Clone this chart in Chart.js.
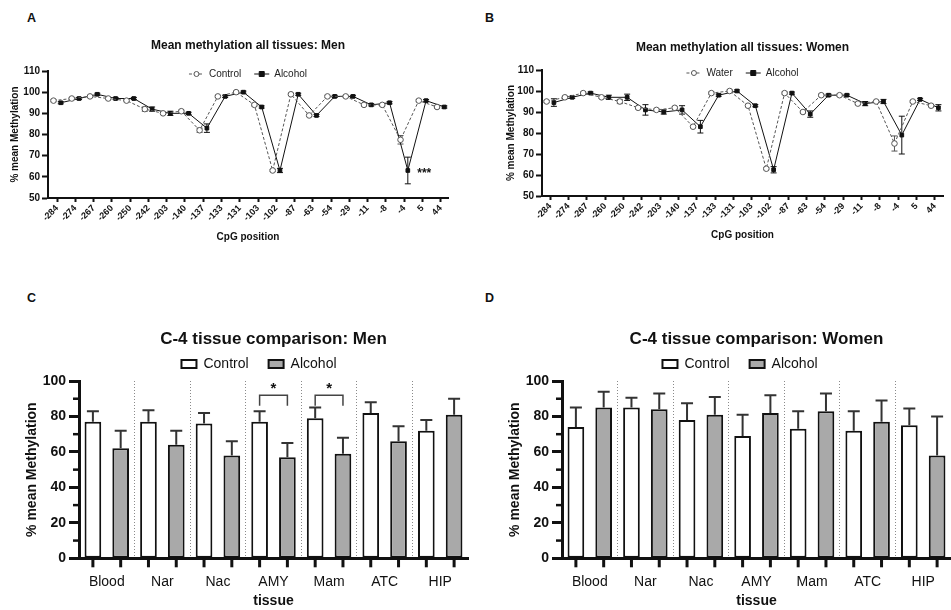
<!DOCTYPE html>
<html>
<head>
<meta charset="utf-8">
<title>Methylation</title>
<script src="https://cdn.jsdelivr.net/npm/chart.js@4/dist/chart.umd.min.js"></script>
<style>
  html, body { margin: 0; padding: 0; background: #fff; overflow: hidden; }
  body { width: 951px; height: 610px; position: relative; font-family: "Liberation Sans", Arial, sans-serif; }
  canvas { position: absolute; }
  .tag { position: absolute; font-weight: bold; font-size: 12.5px; line-height: 1; color: #111; }
</style>
</head>
<body>
<div class="tag" style="left:27px;top:11.5px">A</div>
<div class="tag" style="left:485px;top:11.5px">B</div>
<div class="tag" style="left:27px;top:291.5px">C</div>
<div class="tag" style="left:485px;top:291.5px">D</div>

<canvas id="chart-a" width="470" height="215" style="left:0;top:30px"></canvas>
<canvas id="chart-b" width="454" height="213" style="left:497px;top:30px"></canvas>
<canvas id="chart-c" width="518" height="300" style="left:0;top:310px"></canvas>
<canvas id="chart-d" width="514" height="300" style="left:483px;top:310px"></canvas>

<script>
// CpG positions along the promoter (panels A and B)
const cpgPositions = ["-284", "-274", "-267", "-260", "-250", "-242", "-203", "-140", "-137", "-133", "-131",
  "-103", "-102", "-87", "-63", "-54", "-29", "-11", "-8", "-4", "5", "44"];

const menControl = [96, 97, 98, 97, 96, 92, 90, 91, 82, 98, 100, 94, 63, 99, 89, 98, 98, 94, 94, 77.5, 96, 93];
const menControlErr = [0.5, 0.5, 0.5, 0.5, 0.5, 1, 0.5, 0.5, 1, 0.5, 0.5, 0.5, 0.5, 0.5, 0.5, 0.5, 0.5, 0.5, 0.5, 2, 0.5, 0.5];
const menAlcohol = [95, 97, 99, 97, 97, 92, 90, 90, 83, 98, 100, 93, 63, 99, 89, 98, 98, 94, 95, 63, 96, 93];
const menAlcoholErr = [0.5, 0.5, 0.5, 0.5, 0.5, 1, 1, 0.5, 2, 0.5, 0.5, 0.5, 1, 0.5, 0.5, 0.5, 0.5, 0.5, 0.5, 6.3, 0.5, 0.5];

const womenWater = [95, 97, 99, 97, 95, 92, 91, 92, 83, 99, 100, 93, 63, 99, 90, 98, 98, 94, 95, 75, 95, 93];
const womenWaterErr = [0.5, 0.5, 0.5, 0.5, 1, 0.5, 0.5, 0.5, 0.5, 0.5, 0.5, 0.5, 0.5, 0.5, 0.5, 0.5, 0.5, 0.5, 0.5, 3.6, 0.5, 0.5];
const womenAlcohol = [94.5, 97, 99, 97, 97, 91, 90, 91, 83, 98, 100, 93, 62.5, 99, 89, 98, 98, 94, 95, 79, 96, 92];
const womenAlcoholErr = [1.8, 0.5, 0.5, 1, 1.5, 2.5, 1, 2, 3, 0.5, 0.5, 0.5, 1.5, 0.5, 1.5, 0.5, 0.5, 1, 1, 9, 0.5, 1.5];

// C-4 tissue comparison (panels C and D)
const tissues = ["Blood", "Nar", "Nac", "AMY", "Mam", "ATC", "HIP"];
const menBarControl = [77, 77, 76, 77, 79, 82, 72];
const menBarControlErr = [6, 6.5, 6, 6, 6, 6, 6];
const menBarAlcohol = [62, 64, 58, 57, 59, 66, 81];
const menBarAlcoholErr = [10, 8, 8, 8, 9, 8.5, 9];
const womenBarControl = [74, 85, 78, 69, 73, 72, 75];
const womenBarControlErr = [11, 5.5, 9.5, 12, 10, 11, 9.5];
const womenBarAlcohol = [85, 84, 81, 82, 83, 77, 58];
const womenBarAlcoholErr = [9, 9, 10, 10, 10, 12, 22];
const menSignificant = ["AMY", "Mam"];

const FONT = '"Liberation Sans", Arial, Helvetica, sans-serif';
Chart.defaults.font.family = FONT;
Chart.defaults.color = "#111";

function linePoints(values, shift) {
  return values.map((v, i) => ({ x: i + shift, y: v }));
}

// whiskers above and below each point
const lineErrorBars = {
  id: "lineErrorBars",
  beforeDatasetsDraw(chart) {
    const { ctx } = chart;
    const y = chart.scales.y;
    chart.data.datasets.forEach((ds, i) => {
      const meta = chart.getDatasetMeta(i);
      ctx.save();
      ctx.strokeStyle = ds.borderColor;
      ctx.lineWidth = 1;
      meta.data.forEach((pt, j) => {
        const e = ds.errors[j];
        const top = y.getPixelForValue(ds.data[j].y + e);
        const bot = y.getPixelForValue(ds.data[j].y - e);
        ctx.beginPath();
        ctx.moveTo(pt.x, top); ctx.lineTo(pt.x, bot);
        ctx.moveTo(pt.x - 3, top); ctx.lineTo(pt.x + 3, top);
        ctx.moveTo(pt.x - 3, bot); ctx.lineTo(pt.x + 3, bot);
        ctx.stroke();
      });
      ctx.restore();
    });
  }
};

// legend sitting inside the top of the plot: -o- Control  -•- Alcohol
const lineLegend = {
  id: "lineLegend",
  afterDraw(chart) {
    const { ctx, chartArea } = chart;
    const sets = chart.data.datasets;
    const seg = 15, gap = 5, itemGap = 13;
    ctx.save();
    ctx.font = "10px " + FONT;
    const widths = sets.map(ds => seg + gap + ctx.measureText(ds.label).width);
    const total = widths.reduce((a, b) => a + b, 0) + itemGap * (sets.length - 1);
    let x = (chartArea.left + chartArea.right) / 2 - total / 2;
    const y = chartArea.top + 3;
    sets.forEach((ds, i) => {
      ctx.strokeStyle = ds.borderColor;
      ctx.lineWidth = 1;
      ctx.setLineDash(ds.borderDash || []);
      ctx.beginPath();
      ctx.moveTo(x, y); ctx.lineTo(x + seg, y);
      ctx.stroke();
      ctx.setLineDash([]);
      ctx.fillStyle = ds.pointBackgroundColor;
      ctx.strokeStyle = ds.pointBorderColor;
      const cx = x + seg / 2, r = 2.5;
      ctx.beginPath();
      if (ds.pointStyle === "rect") ctx.rect(cx - r, y - r, 2 * r, 2 * r);
      else ctx.arc(cx, y, r, 0, Math.PI * 2);
      ctx.fill();
      ctx.stroke();
      ctx.fillStyle = "#222";
      ctx.textAlign = "left";
      ctx.textBaseline = "middle";
      ctx.fillText(ds.label, x + seg + gap, y);
      x += widths[i] + itemGap;
    });
    ctx.restore();
  }
};

const pointStars = {
  id: "pointStars",
  afterDatasetsDraw(chart, args, opts) {
    const i = cpgPositions.indexOf(opts.label);
    const ds = chart.data.datasets[opts.dataset];
    const x = chart.scales.x.getPixelForValue(i + 1.1);
    const y = chart.scales.y.getPixelForValue(ds.data[i].y);
    const ctx = chart.ctx;
    ctx.save();
    ctx.font = "bold 12px " + FONT;
    ctx.fillStyle = "#111";
    ctx.textAlign = "center";
    ctx.textBaseline = "middle";
    ctx.fillText("***", x, y + 3);
    ctx.restore();
  }
};

function lineChart(id, title, names, ctrl, ctrlErr, alc, alcErr, cfg) {
  return new Chart(document.getElementById(id), {
    type: "line",
    data: {
      datasets: [
        {
          label: names[0], data: linePoints(ctrl, -0.2), errors: ctrlErr,
          borderColor: "#555", borderWidth: 1, borderDash: [3, 2],
          pointStyle: "circle", pointRadius: 2.8, pointBorderWidth: 1,
          pointBackgroundColor: "#fff", pointBorderColor: "#555"
        },
        {
          label: names[1], data: linePoints(alc, 0.2), errors: alcErr,
          borderColor: "#111", borderWidth: 1,
          pointStyle: "rect", pointRadius: 2.6, pointBorderWidth: 1,
          pointBackgroundColor: "#111", pointBorderColor: "#111"
        }
      ]
    },
    options: {
      responsive: false,
      animation: false,
      layout: { padding: { right: cfg.padRight } },
      plugins: {
        legend: { display: false },
        tooltip: { enabled: false },
        title: {
          display: true, text: title, fullSize: false, color: "#111",
          font: { size: 12, weight: "bold" },
          padding: { top: cfg.titleTop, bottom: cfg.titleBottom }
        },
        pointStars: cfg.stars || false
      },
      scales: {
        x: {
          type: "linear", min: cfg.xMin, max: cfg.xMax,
          afterBuildTicks: s => { s.ticks = cpgPositions.map((_, i) => ({ value: i })); },
          afterFit: s => { s.height = cfg.xHeight; },
          ticks: {
            autoSkip: false, minRotation: 45, maxRotation: 45, padding: 1,
            font: { size: 9, weight: "bold" },
            callback: v => cpgPositions[v]
          },
          grid: { drawOnChartArea: false, tickLength: 4, tickWidth: 2, color: "#111" },
          border: { width: 2, color: "#111" },
          title: { display: true, text: "CpG position", font: { size: 10, weight: "bold" }, padding: { top: 0, bottom: 2 } }
        },
        y: {
          min: 50, max: 110,
          afterFit: s => { s.width = cfg.yWidth; },
          ticks: { stepSize: 10, padding: 2, font: { size: 10, weight: "bold" } },
          grid: { drawOnChartArea: false, tickLength: 6, tickWidth: 2, color: "#111" },
          border: { width: 2, color: "#111" },
          title: { display: true, text: "% mean Methylation", font: { size: 10, weight: "bold" }, padding: { top: cfg.yTitlePad, bottom: 0 } }
        }
      }
    },
    plugins: [lineErrorBars, lineLegend, pointStars]
  });
}

// upper whiskers on bars
const barErrors = {
  id: "barErrors",
  afterDatasetsDraw(chart) {
    const { ctx } = chart;
    const y = chart.scales.y;
    chart.data.datasets.forEach((ds, i) => {
      const meta = chart.getDatasetMeta(i);
      ctx.save();
      ctx.strokeStyle = "#333";
      ctx.lineWidth = 2;
      meta.data.forEach((bar, j) => {
        const top = y.getPixelForValue(ds.data[j] + ds.errors[j]);
        ctx.beginPath();
        ctx.moveTo(bar.x, bar.y); ctx.lineTo(bar.x, top);
        ctx.moveTo(bar.x - 6, top); ctx.lineTo(bar.x + 6, top);
        ctx.stroke();
      });
      ctx.restore();
    });
  }
};

// tick under every bar and minor ticks on the y axis
const barAxisTicks = {
  id: "barAxisTicks",
  afterDraw(chart) {
    const { ctx, chartArea } = chart;
    const y = chart.scales.y;
    ctx.save();
    ctx.strokeStyle = "#111";
    ctx.lineWidth = 3;
    chart.data.datasets.forEach((ds, i) => {
      chart.getDatasetMeta(i).data.forEach(bar => {
        ctx.beginPath();
        ctx.moveTo(bar.x, chartArea.bottom);
        ctx.lineTo(bar.x, chartArea.bottom + 9);
        ctx.stroke();
      });
    });
    ctx.lineWidth = 2.5;
    for (let v = 10; v < 100; v += 20) {
      const py = y.getPixelForValue(v);
      ctx.beginPath();
      ctx.moveTo(chartArea.left - 6, py);
      ctx.lineTo(chartArea.left, py);
      ctx.stroke();
    }
    ctx.restore();
  }
};

const brackets = {
  id: "brackets",
  afterDatasetsDraw(chart, args, opts) {
    const { ctx } = chart;
    const y = chart.scales.y;
    const a = chart.getDatasetMeta(0).data, b = chart.getDatasetMeta(1).data;
    ctx.save();
    opts.cats.forEach(cat => {
      const k = tissues.indexOf(cat);
      const top = y.getPixelForValue(92), leg = y.getPixelForValue(86);
      ctx.strokeStyle = "#444";
      ctx.lineWidth = 1.5;
      ctx.beginPath();
      ctx.moveTo(a[k].x, leg); ctx.lineTo(a[k].x, top);
      ctx.lineTo(b[k].x, top); ctx.lineTo(b[k].x, leg);
      ctx.stroke();
      ctx.fillStyle = "#111";
      ctx.font = "bold 15px " + FONT;
      ctx.textAlign = "center";
      ctx.textBaseline = "middle";
      ctx.fillText("*", (a[k].x + b[k].x) / 2, y.getPixelForValue(95.5));
    });
    ctx.restore();
  }
};

function barChart(id, title, ctrl, ctrlErr, alc, alcErr, cfg) {
  return new Chart(document.getElementById(id), {
    type: "bar",
    data: {
      labels: tissues,
      datasets: [
        { label: "Control", data: ctrl, errors: ctrlErr, backgroundColor: "#fff" },
        { label: "Alcohol", data: alc, errors: alcErr, backgroundColor: "#a9a9a9" }
      ]
    },
    options: {
      responsive: false,
      animation: false,
      datasets: {
        bar: { borderColor: "#111", borderWidth: 2, borderSkipped: false, categoryPercentage: 1.0, barPercentage: 0.6 }
      },
      plugins: {
        tooltip: { enabled: false },
        legend: {
          labels: { boxWidth: 15, boxHeight: 8, padding: 20, color: "#111", font: { size: 14 } }
        },
        title: {
          display: true, text: title, fullSize: false, color: "#111",
          font: { size: 17, weight: "bold" },
          padding: { top: 18.8, bottom: -12.2 }
        },
        brackets: cfg.brackets || false
      },
      scales: {
        x: {
          offset: true,
          afterFit: s => { s.height = 51.7; },
          ticks: { padding: 15, color: "#111", font: { size: 14 } },
          grid: {
            offset: true, drawTicks: false, lineWidth: 1,
            color: c => (c.index > 0 && c.index < tissues.length) ? "#8a8a8a" : "transparent"
          },
          border: { width: 3, color: "#111", dash: [1, 2] },
          title: { display: true, text: "tissue", font: { size: 14, weight: "bold" }, padding: { top: 0, bottom: 0 } }
        },
        y: {
          min: 0, max: 100,
          afterFit: s => { s.width = 79; },
          ticks: { stepSize: 20, padding: 3, font: { size: 14, weight: "bold" } },
          grid: { drawOnChartArea: false, tickLength: 10, tickWidth: 3, color: "#111" },
          border: { width: 3, color: "#111" },
          title: { display: true, text: "% mean Methylation", font: { size: 14, weight: "bold" }, padding: { top: cfg.yTitlePad, bottom: 0 } }
        },
        pad: {
          type: "linear", position: "right", display: true,
          grid: { display: false }, border: { display: false }, ticks: { display: false },
          afterFit: s => { s.width = cfg.padRight; }
        }
      }
    },
    plugins: [barErrors, barAxisTicks, brackets]
  });
}

lineChart("chart-a", "Mean methylation all tissues: Men", ["Control", "Alcohol"],
  menControl, menControlErr, menAlcohol, menAlcoholErr,
  { padRight: 22, titleTop: 8.8, titleBottom: 17.8, xMin: -0.5, xMax: 21.4, xHeight: 47, yWidth: 48, yTitlePad: 9,
    stars: { label: "-4", dataset: 1 } });

lineChart("chart-b", "Mean methylation all tissues: Women", ["Water", "Alcohol"],
  womenWater, womenWaterErr, womenAlcohol, womenAlcoholErr,
  { padRight: 8, titleTop: 10.3, titleBottom: 15.3, xMin: -0.45, xMax: 21.45, xHeight: 47, yWidth: 45, yTitlePad: 8 });

barChart("chart-c", "C-4 tissue comparison: Men",
  menBarControl, menBarControlErr, menBarAlcohol, menBarAlcoholErr,
  { yTitlePad: 23.3, padRight: 50, brackets: { cats: menSignificant } });

barChart("chart-d", "C-4 tissue comparison: Women",
  womenBarControl, womenBarControlErr, womenBarAlcohol, womenBarAlcoholErr,
  { yTitlePad: 23.6, padRight: 46 });
</script>
</body>
</html>
